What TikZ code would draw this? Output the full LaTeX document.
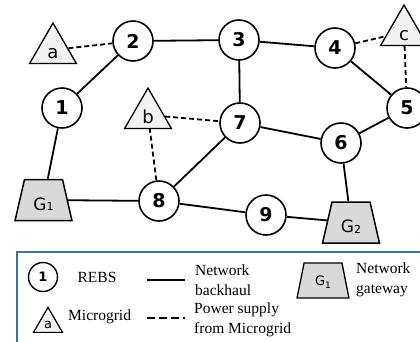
\documentclass[tikz,border=0pt]{standalone}
\usepackage{fontspec}
\setmainfont{Liberation Serif}
\newfontfamily\djv{DejaVu Sans}
\newfontfamily\djvb{DejaVu Sans Bold}
\usetikzlibrary{shapes.geometric}
\definecolor{legendblue}{RGB}{65,113,156}
\definecolor{trifill}{RGB}{242,242,242}
\definecolor{gwfill}{RGB}{217,217,217}
\begin{document}
\begin{tikzpicture}[x=1pt,y=-1pt,
  reb/.style={circle, draw, line width=1.6pt, fill=white, minimum size=40pt, inner sep=0pt,
    font=\fontsize{19}{19}\selectfont\djvb},
  tri/.style={regular polygon, regular polygon sides=3, draw, line width=1.3pt, fill=trifill,
    minimum size=54pt, inner sep=0pt, text height=16pt, text depth=0pt,
    font=\fontsize{18}{18}\selectfont\djv},
  gw/.style={trapezium, trapezium stretches=true, trapezium angle=76, minimum width=57pt,
    minimum height=41pt, draw, line width=1.5pt, fill=gwfill, inner sep=0pt,
    text height=20pt, text depth=0pt, font=\fontsize{17}{17}\selectfont\djv},
  bh/.style={line width=1.8pt},
  ps/.style={line width=1.8pt, dash pattern=on 5pt off 3pt},
  lgtxt/.style={font=\fontsize{15.5}{20}\selectfont, inner sep=0pt, align=left}
]
\useasboundingbox (0,0) rectangle (420,341);

\node[reb] (n1) at (62,108) {1};
\node[reb] (n2) at (133,41) {2};
\node[reb] (n3) at (239,40) {3};
\node[reb] (n4) at (335,48) {4};
\node[reb] (n5) at (407,108) {5};
\node[reb] (n6) at (341,143) {6};
\node[reb] (n7) at (240,123) {7};
\node[reb] (n8) at (159,201) {8};
\node[reb] (n9) at (266,215) {9};
\node[tri] (ta) at (53,50) {a};
\node[tri] (tb) at (148,115) {b};
\node[tri] (tc) at (404,32) {c};
\node[gw] (g1) at (43.5,200) {G\raisebox{-0.5pt}{\fontsize{11}{11}\selectfont 1}};
\node[gw] (g2) at (351,222.5) {G\raisebox{-0.5pt}{\fontsize{11}{11}\selectfont 2}};

\draw[ps] (ta) -- (n2);
\draw[bh] (n2) -- (n3);
\draw[bh] (n2) -- (n1);
\draw[bh] (n1) -- (g1);
\draw[bh] (g1) -- (n8);
\draw[ps] (n8) -- (tb);
\draw[ps] (tb) -- (n7);
\draw[bh] (n8) -- (n7);
\draw[bh] (n8) -- (n9);
\draw[bh] (n9) -- (g2);
\draw[bh] (n3) -- (n7);
\draw[bh] (n3) -- (n4);
\draw[ps] (n4) -- (tc);
\draw[bh] (n4) -- (n5);
\draw[ps] (tc) -- (n5);
\draw[bh] (n7) -- (n6);
\draw[bh] (n6) -- (n5);
\draw[bh] (n6) -- (g2);

% legend
\draw[legendblue, line width=1.2pt, fill=white] (17,252) rectangle (430,350);
\node[reb, minimum size=29pt, line width=1.4pt, font=\fontsize{13}{13}\selectfont\djvb] (l1) at (43,277) {1};
\node[lgtxt] (lrebs) at (97,277) {REBS};
\coordinate (lb1) at (147,280);
\coordinate (lb2) at (185,280);
\draw[bh] (lb1) -- (lb2);
\node[lgtxt, anchor=west] (lnb) at (195,280) {Network\\backhaul};
\node[gw, minimum width=52pt, minimum height=35pt, trapezium angle=72, line width=1.3pt,
  text height=9pt, font=\fontsize{13}{13}\selectfont\djv] (lg) at (323,280.5)
  {G\raisebox{-3pt}{\fontsize{9}{9}\selectfont 1}};
\node[lgtxt, anchor=west] (lng) at (356,280) {Network\\gateway};
\node[tri, minimum size=33.5pt, line width=1.2pt, text height=8pt,
  font=\fontsize{13}{13}\selectfont\djv] (la) at (48,324) {a};
\node[lgtxt, anchor=west] (lmg) at (68,317) {Microgrid};
\coordinate (lp1) at (147,318);
\coordinate (lp2) at (185,318);
\draw[line width=1.8pt, dash pattern=on 8pt off 4pt] (lp1) -- (lp2);
\node[lgtxt, anchor=west] (lps) at (194,320) {Power supply\\from Microgrid};
\end{tikzpicture}
\end{document}
